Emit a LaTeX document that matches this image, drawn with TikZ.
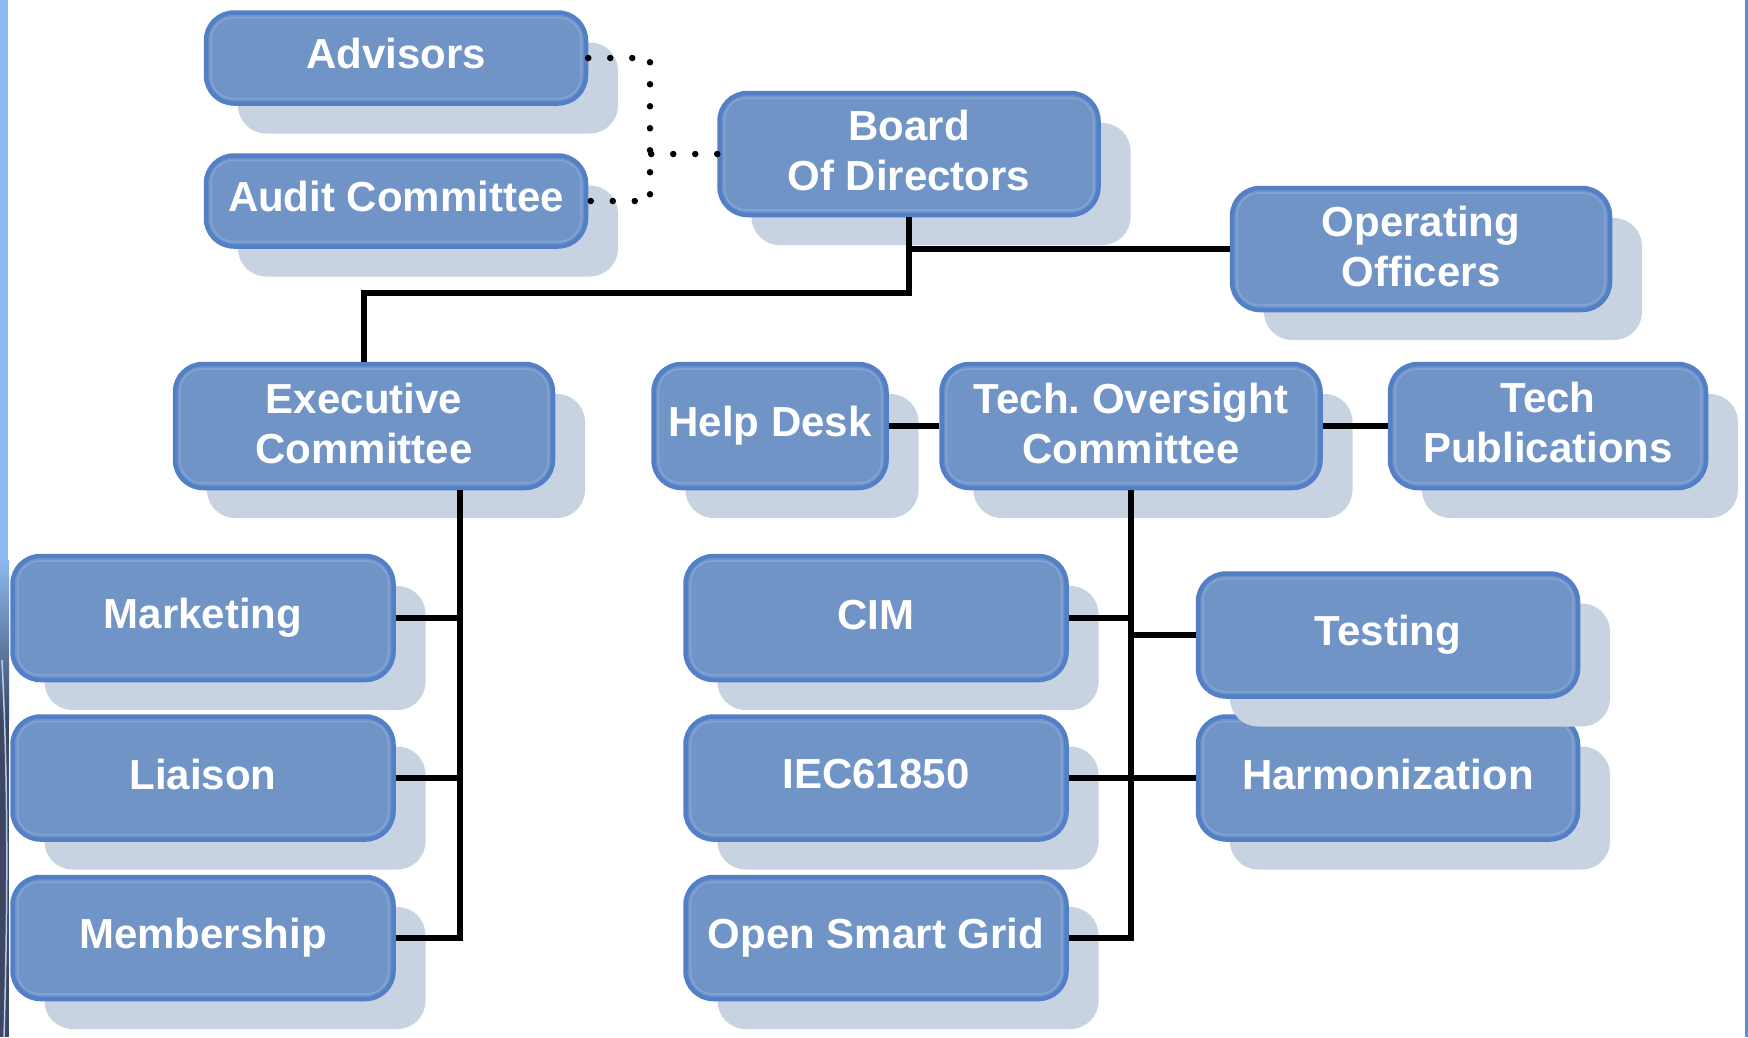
\documentclass[tikz,border=0pt]{standalone}
\usepackage{fontspec}
\setmainfont{Liberation Sans}
\usetikzlibrary{shadows}
\definecolor{boxfill}{RGB}{113,148,199}
\definecolor{boxedge}{RGB}{82,127,198}
\definecolor{boxinner}{RGB}{130,165,216}
\definecolor{shadowc}{RGB}{200,211,226}
\definecolor{leftblue}{RGB}{140,185,240}
\definecolor{leftdark}{RGB}{62,70,96}
\definecolor{rightblue}{RGB}{90,140,215}
\tikzset{
  orgbox/.style={rounded corners=28pt, fill=boxfill, draw=boxedge, line width=4.5pt,
    text=white, align=center, inner sep=0pt,
    font=\bfseries\fontsize{42}{50}\selectfont,
    drop shadow={shadow xshift=32pt, shadow yshift=-30pt, fill=shadowc, opacity=1, draw=none},
    path picture={\draw[boxinner, line width=1.5pt, rounded corners=22pt]
      ([xshift=5pt,yshift=5pt]path picture bounding box.south west) rectangle
      ([xshift=-5pt,yshift=-5pt]path picture bounding box.north east);}},
  textup/.style={text depth=#1},
  conn/.style={black, line width=6pt},
  dotline/.style={black, line width=6.5pt, line cap=round, dash pattern=on 0pt off 22pt}
}
\begin{document}
\begin{tikzpicture}[x=1pt,y=-1pt]
\useasboundingbox (0,0) rectangle (1748,1037);
\fill[white] (0,0) rectangle (1748,1037);
\fill[leftblue] (0,0) rectangle (8,1037);
\shade[top color=leftblue, bottom color=leftdark] (0,560) rectangle (9,720);
\fill[leftdark] (0,720) rectangle (9,1037);
\draw[leftblue!70!white, line width=1.5pt] (2,660) .. controls (8,780) and (8,900) .. (4,1037);
\fill[rightblue] (1745,0) rectangle (1748,1037);

\node[orgbox, textup=9pt, minimum width=380pt, minimum height=91pt] (adv) at (396,58) {Advisors};
\node[orgbox, textup=9pt, minimum width=380pt, minimum height=91pt] (aud) at (396,201) {Audit Committee};
\node[orgbox, textup=8pt, minimum width=379pt, minimum height=122pt] (brd) at (909,154) {Board\\Of Directors};
\node[orgbox, textup=6pt, minimum width=378pt, minimum height=122pt] (ofc) at (1421,249) {Operating\\Officers};
\node[orgbox, textup=6pt, minimum width=378pt, minimum height=124pt] (exe) at (364,426) {Executive\\Committee};
\node[orgbox, minimum width=233pt, minimum height=124pt] (hlp) at (770,426) {Help Desk};
\node[orgbox, textup=6pt, minimum width=379pt, minimum height=124pt] (toc) at (1131,426) {Tech.\ Oversight\\Committee};
\node[orgbox, textup=8pt, minimum width=316pt, minimum height=124pt] (pub) at (1548,426) {Tech\\Publications};
\node[orgbox, minimum width=381pt, minimum height=124pt] (mkt) at (203,618) {Marketing};
\node[orgbox, textup=8pt, minimum width=381pt, minimum height=123pt] (lia) at (203,778) {Liaison};
\node[orgbox, minimum width=381pt, minimum height=122pt] (mem) at (203,938) {Membership};
\node[orgbox, textup=6pt, minimum width=381pt, minimum height=124pt] (cim) at (876,618) {CIM};
\node[orgbox, textup=8pt, minimum width=381pt, minimum height=123pt] (iec) at (876,778) {IEC61850};
\node[orgbox, minimum width=381pt, minimum height=122pt] (osg) at (876,938) {Open Smart Grid};
\node[orgbox, textup=8pt, minimum width=380pt, minimum height=123pt] (har) at (1388,778) {Harmonization};
\node[orgbox, minimum width=380pt, minimum height=123pt] (tst) at (1388,635) {Testing};

% dotted advisory links
\coordinate (dj) at (650,154);
\draw[dotline] (adv.east) -| (dj) |- (aud.east);
\draw[dotline] (brd.west) -- (dj);

% board links
\draw[conn] (brd.south) -- ++(0,76) -| (exe.north);
\draw[conn] (brd.south |- ofc.west) -- (ofc.west);

% executive committee branch
\coordinate (ex) at ([xshift=96pt]exe.south);
\draw[conn] (ex) |- (mem.east);
\draw[conn] (mkt.east) -- (mkt.east -| ex);
\draw[conn] (lia.east) -- (lia.east -| ex);

% tech oversight links
\draw[conn] (hlp.east) -- (toc.west);
\draw[conn] (toc.east) -- (pub.west);
\draw[conn] (toc.south) |- (osg.east);
\draw[conn] (cim.east) -- (cim.east -| toc.south);
\draw[conn] (tst.west) -- (tst.west -| toc.south);
\draw[conn] (iec.east) -- (har.west);
\end{tikzpicture}
\end{document}
